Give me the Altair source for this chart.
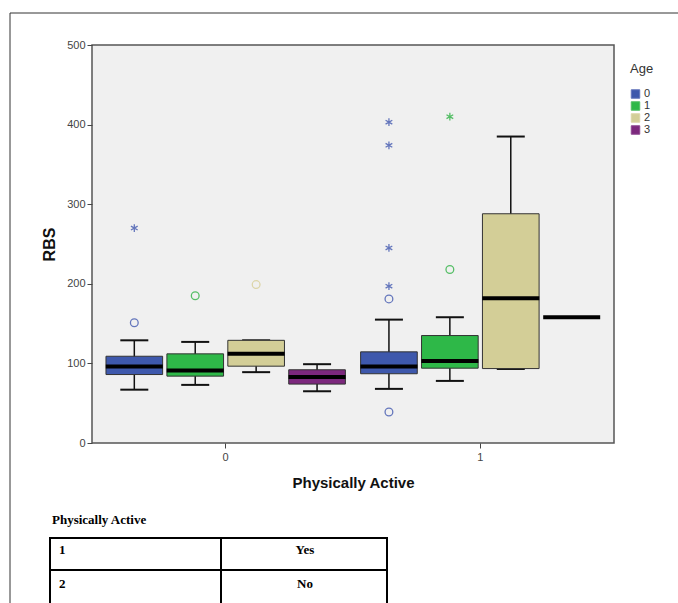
import altair as alt
import pandas as pd

# ---- box summaries ----
groups = [0, 0, 0, 0, 1, 1, 1, 1]
ages = [0, 1, 2, 3, 0, 1, 2, 3]
w_lo = [67, 73, 89, 65, 68, 78, 93, None]
q1 = [86, 84, 96.5, 74, 87, 94, 93.5, None]
med = [96, 91, 112, 83, 96, 103, 182, 158]
q3 = [109, 112, 129, 92, 114.5, 135, 288, None]
w_hi = [129, 127, 129, 99, 155, 158, 385, None]

# ---- outliers ----
out_group = [0, 0, 0, 0, 1, 1, 1, 1, 1, 1, 1, 1]
out_age = [0, 0, 1, 2, 0, 0, 0, 0, 0, 0, 1, 1]
out_val = [151, 270, 185, 199, 181, 39, 403, 374, 245, 197, 218, 410]
out_kind = ["o", "*", "o", "o", "o", "o", "*", "*", "*", "*", "o", "*"]

age_domain = ["0", "1", "2", "3"]
fill_colors = ["#3E58AC", "#2EB848", "#D3CE97", "#7C287D"]
out_colors = ["#6476BC", "#55BE66", "#DCD5A8", "#8E4A92"]

table_keys = ["1", "2"]
table_vals = ["Yes", "No"]

boxes = pd.DataFrame({
    "group": [str(g) for g in groups],
    "age": [str(a) for a in ages],
    "lo": w_lo, "q1": q1, "med": med, "q3": q3, "hi": w_hi,
})
full = boxes.dropna(subset=["q1"])
outs = pd.DataFrame({
    "group": [str(g) for g in out_group],
    "age": [str(a) for a in out_age],
    "oage": [str(a) for a in out_age],
    "value": out_val,
    "kind": out_kind,
})

X = alt.X("group:N", title="Physically Active",
          scale=alt.Scale(paddingInner=0, paddingOuter=0.025),
          axis=alt.Axis(labelAngle=0, labelFontSize=11, labelColor="#444",
                        tickColor="#444", tickSize=5, domain=False,
                        titleFontSize=15, titleFontWeight="bold", titleColor="#111",
                        titlePadding=13, labelPadding=3))
XO = alt.XOffset("age:N", scale=alt.Scale(domain=age_domain, paddingInner=0.07, paddingOuter=0.125))
yscale = alt.Scale(domain=[0, 500], nice=False)
yaxis = alt.Axis(values=[0, 100, 200, 300, 400, 500], labelFontSize=11, labelColor="#444",
                 tickColor="#444", tickSize=5, domain=False, grid=False,
                 titleFontSize=16, titleFontWeight="bold", titleColor="#111",
                 titlePadding=9, labelPadding=2)

def Y(field):
    return alt.Y(f"{field}:Q", title="RBS", scale=yscale, axis=yaxis)

legend = alt.Legend(title="Age", orient="none", legendX=538, legendY=18,
                    titleFontSize=13, titleFontWeight="normal", titleColor="#333",
                    labelFontSize=11, labelColor="#333",
                    symbolType="square", symbolSize=72, symbolOpacity=1,
                    symbolStrokeColor="#222", symbolStrokeWidth=1,
                    rowPadding=0, clipHeight=12,
                    titlePadding=12, labelOffset=3)

whisk = alt.Chart(full).mark_rule(color="#111", strokeWidth=1.5).encode(
    x=X, xOffset=XO, y=Y("lo"), y2="hi")
cap_lo = alt.Chart(full).mark_tick(color="#111", size=28, thickness=2, opacity=1).encode(
    x=X, xOffset=XO, y=Y("lo"))
cap_hi = alt.Chart(full).mark_tick(color="#111", size=28, thickness=2, opacity=1).encode(
    x=X, xOffset=XO, y=Y("hi"))
box = alt.Chart(full).mark_bar(stroke="#333", strokeWidth=1, opacity=1).encode(
    x=X, xOffset=XO, y=Y("q1"), y2="q3",
    fill=alt.Fill("age:N", legend=legend,
                  scale=alt.Scale(domain=age_domain, range=fill_colors)))
median = alt.Chart(boxes).mark_tick(color="#000", size=57, thickness=4, opacity=1).encode(
    x=X, xOffset=XO, y=Y("med"))

star_path = "M0,-1L0,1M-0.87,-0.5L0.87,0.5M-0.87,0.5L0.87,-0.5"
outl = alt.Chart(outs).mark_point(filled=False, size=60, strokeWidth=1.3, opacity=1).encode(
    x=X, xOffset=XO, y=Y("value"),
    stroke=alt.Stroke("oage:N", legend=None,
                      scale=alt.Scale(domain=age_domain, range=out_colors)),
    shape=alt.Shape("kind:N", legend=None,
                    scale=alt.Scale(domain=["o", "*"], range=["circle", star_path])))

one = pd.DataFrame({"k": [0]})

def hline(x1, x2, y, color="#000", w=2):
    return alt.Chart(one).mark_rule(color=color, strokeWidth=w).encode(
        x=alt.value(x1), x2=alt.value(x2), y=alt.value(y))

def vline(x, y1, y2, color="#000", w=2):
    return alt.Chart(one).mark_rule(color=color, strokeWidth=w).encode(
        x=alt.value(x), y=alt.value(y1), y2=alt.value(y2))

def txt(s, x, y, align="left"):
    return alt.Chart(one).mark_text(font="Liberation Serif", fontWeight="bold",
                                    fontSize=13, color="#000", align=align,
                                    baseline="alphabetic").encode(
        x=alt.value(x), y=alt.value(y), text=alt.value(s))

# page frame (document border)
frame = [hline(-82, 590, -32, "#333", 1), vline(-82, -32, 560, "#333", 1)]

# table below the chart
table = [
    hline(-42, 295, 493), hline(-42, 295, 525),
    vline(-42, 492, 560), vline(129, 492, 560), vline(295, 492, 560),
    txt("Physically Active", -40, 479),
    txt(table_keys[0], -33, 509), txt(table_vals[0], 213, 509, "center"),
    txt(table_keys[1], -33, 543), txt(table_vals[1], 213, 543, "center"),
]

chart = alt.layer(whisk, cap_lo, cap_hi, box, median, outl, *frame, *table).properties(
    width=522, height=398,
    padding={"left": 92, "top": 45, "right": 64, "bottom": 160},
    autosize=alt.AutoSizeParams(type="none"),
).configure(
    font="Liberation Sans", background="white"
).configure_view(
    fill="#F0F0F0", stroke="#555", strokeWidth=1.5
)

chart.save("out.html", embed_options={"renderer": "svg", "actions": False})
